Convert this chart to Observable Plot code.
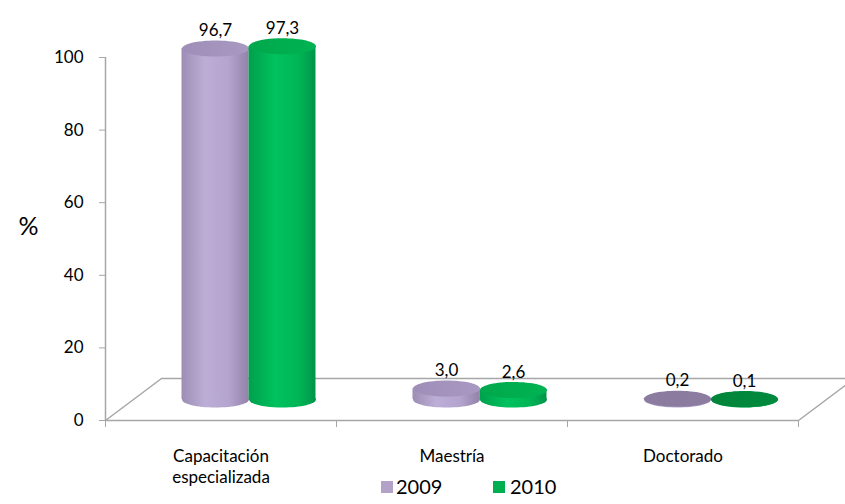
<!DOCTYPE html>
<html>
<head>
<meta charset="utf-8">
<script src="https://cdn.jsdelivr.net/npm/d3@7"></script>
<script src="https://cdn.jsdelivr.net/npm/@observablehq/plot@0.6"></script>
<style>
  body { margin: 0; background: #fff; font-family: Lato, "Open Sans", sans-serif; }
  #wrap { position: relative; width: 845px; height: 504px; }
  #legend { position: absolute; left: 0; top: 477px; height: 20px; width: 845px; font-size: 20px; color: #000; }
  #legend .sw { position: absolute; top: 4px; width: 12px; height: 12px; }
  #legend .lb { position: absolute; top: -3px; line-height: 24px; }
</style>
</head>
<body>
<div id="wrap">
  <div id="chart"></div>
  <div id="legend"></div>
</div>
<script>
// ---- data ----
const categories = ["Capacitación\nespecializada", "Maestría", "Doctorado"];
const series = ["2009", "2010"];
const values2009 = [96.7, 3.0, 0.2];
const values2010 = [97.3, 2.6, 0.1];
const yTicks = [0, 20, 40, 60, 80, 100];
const seriesColors = ["#b3a2c7", "#00b050"];

// ---- layout ----
const W = 845, H = 486;
const mL = 105, mR = 47, mT = 57, mB = 66;
const pxPerX = (W - mL - mR) / categories.length;
const pxPerY = (H - mT - mB) / 100;
const depthX = 56, depthY = 42;          // 3D floor depth in pixels
const half = 0.145;                        // half cylinder width (x units)
const rx = half * pxPerX;                  // ellipse radius in px
const fmt = v => v.toFixed(1).replace(".", ",");

const valuesBySeries = [values2009, values2010];
const rows = categories.flatMap((c, i) => series.map((s, j) => ({
  cat: c, i, series: s, j,
  value: valuesBySeries[j][i],
  pos: i + 0.5 + (j ? half : -half)
})));

// custom ellipse symbol
const ellipse = {
  draw(ctx, size) {
    const a = Math.sqrt(size / Math.PI), b = a * 0.24, k = 0.5523;
    ctx.moveTo(a, 0);
    ctx.bezierCurveTo(a, b * k, a * k, b, 0, b);
    ctx.bezierCurveTo(-a * k, b, -a, b * k, -a, 0);
    ctx.bezierCurveTo(-a, -b * k, -a * k, -b, 0, -b);
    ctx.bezierCurveTo(a * k, -b, a, -b * k, a, 0);
    ctx.closePath();
  }
};

// floor corners (in data units, derived from pixel depth)
const dX = depthX / pxPerX, dY = depthY / pxPerY;
const floor = [[0, 0], [dX, dY], [categories.length + dX, dY], [categories.length, 0]];

const cylMarks = series.flatMap((s, j) => {
  const d = rows.filter(r => r.j === j);
  return [
    Plot.dot(d, {x: "pos", y: () => 0, r: rx, symbol: ellipse, fill: `url(#body${j})`, stroke: "none", dx: depthX / 2, dy: -depthY / 2}),
    Plot.rect(d, {x1: r => r.pos - half, x2: r => r.pos + half, y1: 0, y2: "value", fill: `url(#body${j})`, dx: depthX / 2, dy: -depthY / 2}),
    Plot.dot(d, {x: "pos", y: "value", r: rx, symbol: ellipse, fill: r => r.value < 1 ? `url(#flat${j})` : `url(#top${j})`, stroke: "none", dx: depthX / 2, dy: -depthY / 2})
  ];
});

const chart = Plot.plot({
  width: W, height: H,
  marginLeft: mL, marginRight: mR, marginTop: mT, marginBottom: mB,
  style: {fontFamily: "Lato, 'Open Sans', sans-serif", fontSize: "17px", color: "#000", background: "#fff", overflow: "visible"},
  x: {domain: [0, categories.length], ticks: d3.range(categories.length + 1), tickFormat: () => "", tickSize: 7, label: null},
  y: {domain: [0, 100], ticks: yTicks, tickSize: 6, tickPadding: 16, label: null},
  marks: [
    Plot.line(floor, {x: d => d[0], y: d => d[1], stroke: "#a6a6a6", strokeWidth: 1.5}),
    Plot.ruleX([0], {stroke: "#a6a6a6", strokeWidth: 1.5}),
    Plot.ruleY([0], {stroke: "#a6a6a6", strokeWidth: 1.5}),
    ...cylMarks,
    Plot.text(rows, {x: "pos", y: "value", text: r => fmt(r.value), dx: depthX / 2, dy: -depthY / 2 - 18, fontSize: 17, fill: "#000"}),
    Plot.text(categories.map((c, i) => ({c, i})), {x: d => d.i + 0.5, y: () => 0, text: "c", lineAnchor: "top", dy: 27, lineHeight: 1.22, fontSize: 17, fill: "#000"}),
    Plot.text(["%"], {frameAnchor: "left", dx: -87, dy: -12, fontSize: 25, fill: "#000"})
  ]
});

// gradients
const defs = d3.select(chart).insert("defs", ":first-child");
function grad(id, stops) {
  const g = defs.append("linearGradient").attr("id", id).attr("x1", "0").attr("x2", "1").attr("y1", "0").attr("y2", "0");
  stops.forEach(([o, c]) => g.append("stop").attr("offset", o).attr("stop-color", c));
}
grad("body0", [[0, "#9d8db5"], [0.35, "#bcaed6"], [0.7, "#b4a4cf"], [1, "#9383aa"]]);
grad("body1", [[0, "#00a04c"], [0.4, "#00c25e"], [0.75, "#00b555"], [1, "#00954a"]]);
grad("top0", [[0, "#9f8fb8"], [1, "#a898c2"]]);
grad("top1", [[0, "#00a84c"], [1, "#00b352"]]);
grad("flat0", [[0, "#8a7b9f"], [1, "#8b7ca0"]]);
grad("flat1", [[0, "#00853b"], [1, "#008a3e"]]);

// gray axis ticks
d3.select(chart).selectAll("[aria-label$='axis tick'], [aria-label$='axis'] line, [aria-label$='axis'] path").attr("stroke", "#a6a6a6");

document.getElementById("chart").appendChild(chart);

// legend
const legend = document.getElementById("legend");
const legendPos = [[381, 396], [493, 510]];
series.forEach((s, j) => {
  const sw = document.createElement("div");
  sw.className = "sw"; sw.style.left = legendPos[j][0] + "px"; sw.style.background = seriesColors[j];
  const lb = document.createElement("div");
  lb.className = "lb"; lb.style.left = legendPos[j][1] + "px"; lb.textContent = s;
  legend.appendChild(sw); legend.appendChild(lb);
});
</script>
</body>
</html>
